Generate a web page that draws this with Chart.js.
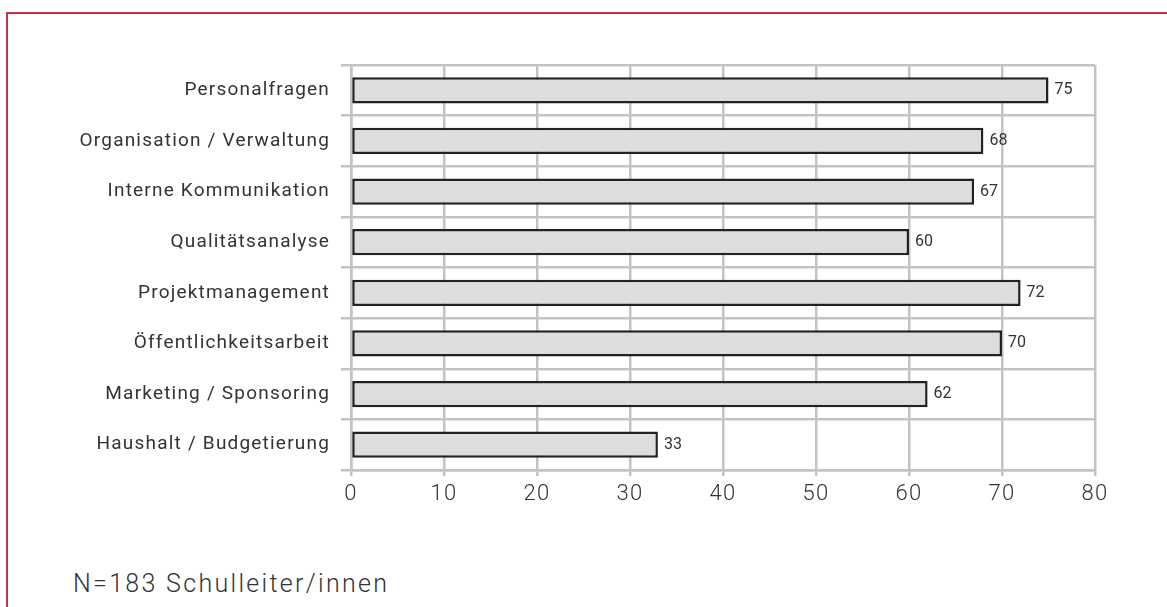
<!DOCTYPE html>
<html>
<head>
<meta charset="utf-8">
<script src="https://cdn.jsdelivr.net/npm/chart.js@4/dist/chart.umd.min.js"></script>
<style>
	html, body { margin: 0; padding: 0; background: #fff; }
	body { width: 1167px; height: 607px; overflow: hidden; position: relative; }
	#frame {
		position: absolute; left: 6px; top: 12px; width: 1200px; height: 700px;
		border-top: 2px solid #c8323c; border-left: 2px solid #c8323c;
	}
	#wrap { position: absolute; left: 0; top: 0; width: 1167px; height: 520px; }
	#note {
		position: absolute; left: 73px; top: 569px;
		font: 300 25px Roboto, sans-serif; color: #333; letter-spacing: 2.3px;
	}
</style>
</head>
<body>
<div id="frame"></div>
<div id="wrap"><canvas id="bar-chart"></canvas></div>
<div id="note">N=183 Schulleiter/innen</div>
<script>
const categories = ['Personalfragen', 'Organisation / Verwaltung', 'Interne Kommunikation',
	'Qualitätsanalyse', 'Projektmanagement', 'Öffentlichkeitsarbeit',
	'Marketing / Sponsoring', 'Haushalt / Budgetierung']
const values = [75, 68, 67, 60, 72, 70, 62, 33]
const xTicks = [0, 10, 20, 30, 40, 50, 60, 70, 80]

const gridColor = '#c2c3c5'

// the reference lettering is spaced out a little
const spacing = {
	id: 'spacing',
	beforeDraw(chart) { chart.ctx.letterSpacing = '1.2px' },
	afterDraw(chart) { chart.ctx.letterSpacing = '0px' }
}

// value next to the end of each bar
const valueLabels = {
	id: 'valueLabels',
	afterDatasetsDraw(chart) {
		const ctx = chart.ctx
		const meta = chart.getDatasetMeta(0)
		ctx.save()
		ctx.letterSpacing = '0px'
		ctx.font = '16px Roboto, sans-serif'
		ctx.fillStyle = '#333'
		ctx.textBaseline = 'middle'
		meta.data.forEach((bar, i) => {
			ctx.fillText(values[i], bar.x + 6, bar.y)
		})
		ctx.restore()
	}
}

const barChart = new Chart(document.getElementById('bar-chart'), {
	type: 'bar',
	data: {
		labels: categories,
		datasets: [
			{
				data: values,
				backgroundColor: '#dcddde',
				borderColor: '#222',
				borderWidth: 2.5,
				borderSkipped: false,
				barPercentage: 0.52,
				categoryPercentage: 1
			}
		]
	},
	options: {
		indexAxis: 'y',
		responsive: true,
		maintainAspectRatio: false,
		animation: false,
		layout: { padding: { top: 65, right: 72, left: 0, bottom: 0 } },
		plugins: {
			legend: { display: false },
			tooltip: { enabled: false }
		},
		scales: {
			x: {
				min: 0,
				max: 80,
				afterBuildTicks(scale) {
					scale.ticks = xTicks.map(v => ({ value: v }))
				},
				afterFit(scale) { scale.height = 50 },
				grid: { color: gridColor, lineWidth: 2.5, tickLength: 6 },
				border: { color: gridColor, width: 2.5 },
				ticks: {
					color: '#333',
					font: { family: 'Roboto', size: 22, weight: 300 },
					padding: 5
				}
			},
			y: {
				afterFit(scale) { scale.width = 351 },
				grid: { color: gridColor, lineWidth: 2.5, tickLength: 10, offset: true },
				border: { color: gridColor, width: 2.5 },
				ticks: {
					color: '#333',
					font: { family: 'Roboto', size: 19 },
					padding: 11
				}
			}
		}
	},
	plugins: [spacing, valueLabels]
})
</script>
</body>
</html>
